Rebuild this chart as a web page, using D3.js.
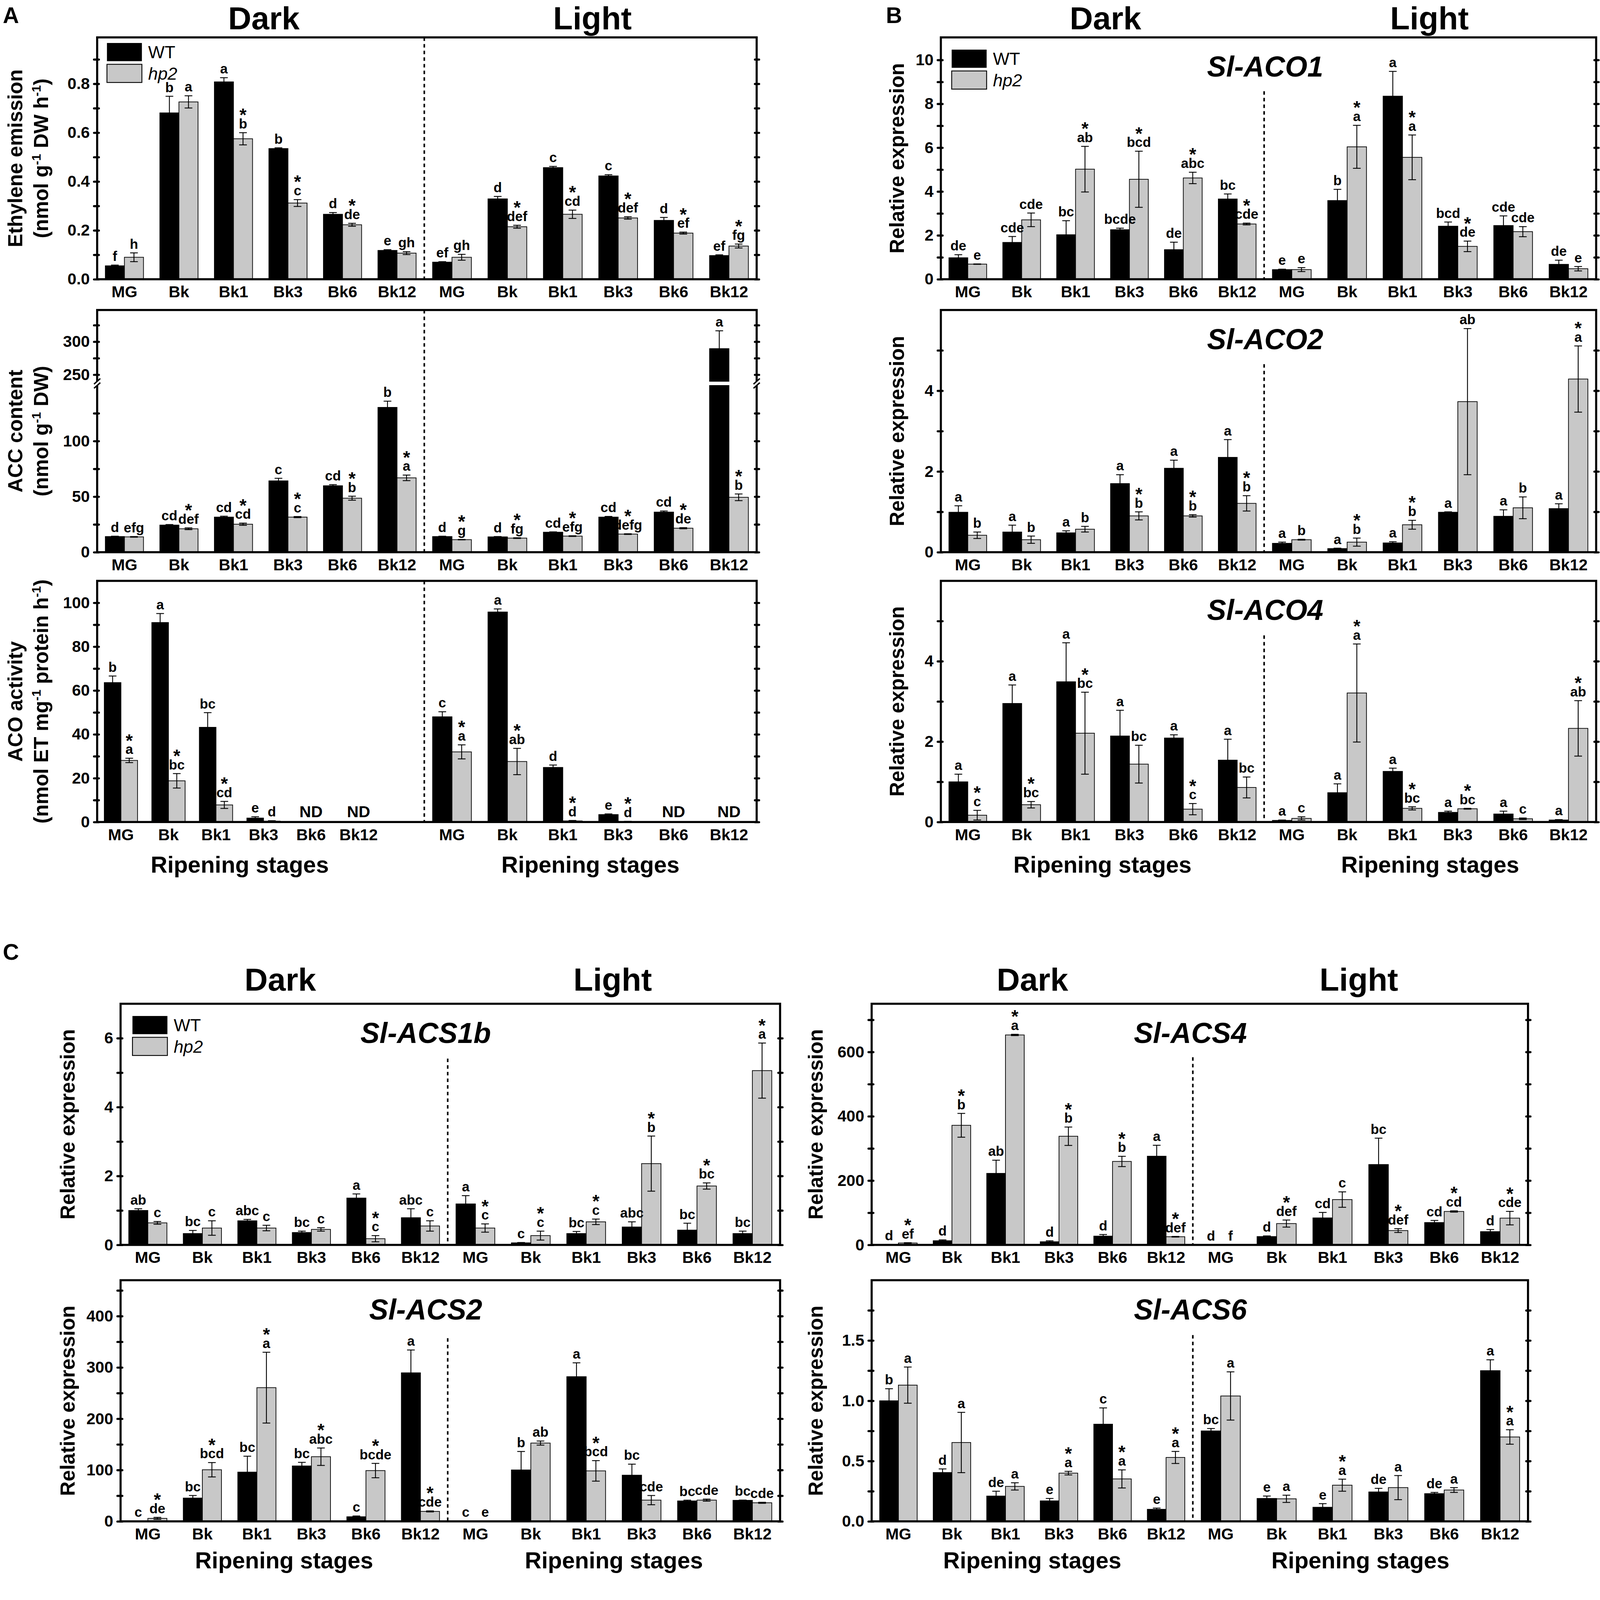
<!DOCTYPE html>
<html>
<head>
<meta charset="utf-8">
<script src="https://cdn.jsdelivr.net/npm/d3@7"></script>
<style>
html, body { margin: 0; padding: 0; background: #fff; overflow: hidden; }
svg { display: block; width: 100vw; height: 100vh; }
text { font-family: "Liberation Sans", Arial, sans-serif; font-weight: bold; fill: #000; }
</style>
</head>
<body>
<svg id="fig" viewBox="0 0 4578 4509" preserveAspectRatio="xMinYMin meet"></svg>
<script>
// ripening stages, dark group then light group (12 entries per series)
var stages = ["MG", "Bk", "Bk1", "Bk3", "Bk6", "Bk12"];

// A - ethylene emission
var ethWT     = [0.055, 0.681, 0.808, 0.535, 0.266, 0.118, 0.070, 0.329, 0.457, 0.423, 0.241, 0.097];
var ethWTErr  = [0.003, 0.068, 0.017, 0.003, 0.007, 0.003, 0.002, 0.010, 0.005, 0.005, 0.012, 0.003];
var ethHp     = [0.090, 0.726, 0.575, 0.312, 0.223, 0.107, 0.090, 0.215, 0.266, 0.251, 0.189, 0.136];
var ethHpErr  = [0.018, 0.025, 0.025, 0.014, 0.006, 0.006, 0.012, 0.006, 0.017, 0.005, 0.004, 0.008];
var ethWTLet  = ["f", "b", "a", "b", "d", "e", "ef", "d", "c", "c", "d", "ef"];
var ethHpLet  = ["h", "a", "*b", "*c", "*de", "gh", "gh", "*def", "*cd", "*def", "*ef", "*fg"];

// A - ACC content
var accWT     = [14.1, 24.4, 31.6, 64.2, 59.8, 130.3, 14.1, 13.8, 18.0, 31.6, 36.1, 289.5];
var accWTErr  = [0.3, 0.5, 0.8, 2.3, 1.0, 5.6, 0.3, 0.3, 0.3, 0.6, 1.0, 27];
var accHp     = [13.8, 21.1, 25.2, 31.6, 48.6, 66.9, 11.3, 12.7, 14.5, 16.3, 21.6, 49.4];
var accHpErr  = [0.3, 0.8, 1.0, 0.5, 1.8, 2.5, 0.2, 0.3, 0.3, 0.3, 0.5, 3.0];
var accWTLet  = ["d", "cd", "cd", "c", "cd", "b", "d", "d", "cd", "cd", "cd", "a"];
var accHpLet  = ["efg", "*def", "*cd", "*c", "*b", "*a", "*g", "*fg", "*efg", "*defg", "*de", "*b"];

// A - ACO activity (null = not detected)
var acoWT     = [63.6, 91.0, 43.2, 1.8, null, null, 48.0, 95.8, 24.9, 3.4, null, null];
var acoWTErr  = [3.0, 4.1, 6.7, 0.6, 0, 0, 2.3, 1.4, 1.1, 0.3, 0, 0];
var acoHp     = [28.1, 18.8, 7.8, 0.4, null, null, 32.0, 27.6, 0.5, 0.2, null, null];
var acoHpErr  = [1.0, 3.3, 1.6, 0.2, 0, 0, 3.2, 6.0, 0.2, 0.1, 0, 0];
var acoWTLet  = ["b", "a", "bc", "e", "ND", "ND", "c", "a", "d", "e", "ND", "ND"];
var acoHpLet  = ["*a", "*bc", "*cd", "d", "", "", "*a", "*ab", "*d", "*d", "", ""];

// B - Sl-ACO1
var aco1WT    = [0.98, 1.68, 2.03, 2.26, 1.35, 3.66, 0.44, 3.59, 8.35, 2.42, 2.45, 0.68];
var aco1WTErr = [0.14, 0.27, 0.64, 0.07, 0.34, 0.23, 0.02, 0.51, 1.13, 0.19, 0.44, 0.19];
var aco1Hp    = [0.69, 2.71, 5.02, 4.56, 4.62, 2.52, 0.44, 6.04, 5.56, 1.50, 2.17, 0.48];
var aco1HpErr = [0.01, 0.31, 1.04, 1.28, 0.26, 0.04, 0.09, 0.98, 1.02, 0.24, 0.23, 0.10];
var aco1WTLet = ["de", "cde", "bc", "bcde", "de", "bc", "e", "b", "a", "bcd", "cde", "de"];
var aco1HpLet = ["e", "cde", "*ab", "*bcd", "*abc", "*cde", "e", "*a", "*a", "*de", "cde", "e"];

// B - Sl-ACO2
var aco2WT    = [0.99, 0.50, 0.48, 1.70, 2.08, 2.35, 0.22, 0.09, 0.23, 0.99, 0.89, 1.08];
var aco2WTErr = [0.16, 0.17, 0.05, 0.22, 0.20, 0.44, 0.03, 0.01, 0.03, 0.01, 0.16, 0.12];
var aco2Hp    = [0.42, 0.31, 0.57, 0.90, 0.90, 1.21, 0.31, 0.25, 0.68, 3.73, 1.10, 4.29];
var aco2HpErr = [0.08, 0.09, 0.07, 0.10, 0.03, 0.19, 0.01, 0.10, 0.11, 1.81, 0.27, 0.82];
var aco2WTLet = ["a", "a", "a", "a", "a", "a", "a", "a", "a", "a", "a", "a"];
var aco2HpLet = ["b", "b", "b", "*b", "*b", "*b", "b", "*b", "*b", "ab", "b", "*a"];

// B - Sl-ACO4
var aco4WT    = [1.00, 2.95, 3.49, 2.14, 2.09, 1.54, 0.04, 0.73, 1.26, 0.24, 0.20, 0.05];
var aco4WTErr = [0.19, 0.46, 0.97, 0.64, 0.08, 0.52, 0.01, 0.22, 0.08, 0.03, 0.07, 0.01];
var aco4Hp    = [0.17, 0.43, 2.21, 1.44, 0.32, 0.86, 0.09, 3.21, 0.34, 0.33, 0.08, 2.33];
var aco4HpErr = [0.12, 0.08, 1.02, 0.47, 0.14, 0.26, 0.04, 1.22, 0.04, 0.01, 0.02, 0.69];
var aco4WTLet = ["a", "a", "a", "a", "a", "a", "a", "a", "a", "a", "a", "a"];
var aco4HpLet = ["*c", "*bc", "*bc", "bc", "*c", "bc", "c", "*a", "*bc", "*bc", "c", "*ab"];

// C - Sl-ACS1b
var acs1WT    = [1.00, 0.33, 0.70, 0.36, 1.36, 0.79, 1.19, 0.06, 0.33, 0.52, 0.43, 0.33];
var acs1WTErr = [0.05, 0.09, 0.04, 0.04, 0.12, 0.26, 0.24, 0.01, 0.06, 0.15, 0.20, 0.07];
var acs1Hp    = [0.64, 0.49, 0.49, 0.45, 0.18, 0.55, 0.49, 0.27, 0.67, 2.36, 1.71, 5.06];
var acs1HpErr = [0.04, 0.21, 0.08, 0.05, 0.09, 0.15, 0.12, 0.13, 0.08, 0.80, 0.09, 0.80];
var acs1WTLet = ["ab", "bc", "abc", "bc", "a", "abc", "a", "c", "bc", "abc", "bc", "bc"];
var acs1HpLet = ["c", "c", "c", "c", "*c", "c", "*c", "*c", "*c", "*b", "*bc", "*a"];

// C - Sl-ACS4
var acs4WT    = [1, 13, 222.5, 9.8, 27.3, 275.9, 0.5, 26, 84, 250, 69.6, 41.3];
var acs4WTErr = [0.3, 2.6, 41, 3, 5, 34, 0.2, 2, 17, 82, 6.5, 6.5];
var acs4Hp    = [5.9, 372, 653, 338, 259.6, 25.4, 0.5, 66.4, 141, 44.6, 104, 83.3];
var acs4HpErr = [1, 37, 2, 28.6, 16, 1, 0.2, 11, 24, 6, 2, 21];
var acs4WTLet = ["d", "d", "ab", "d", "d", "a", "d", "d", "cd", "bc", "cd", "d"];
var acs4HpLet = ["*ef", "*b", "*a", "*b", "*b", "*def", "f", "*def", "c", "*def", "*cd", "*cde"];

// C - Sl-ACS2
var acs2WT    = [0.5, 45.4, 96, 108, 9, 289.5, 0.5, 100.2, 282, 90, 39.8, 41];
var acs2WTErr = [0.2, 5, 31, 7, 1.5, 44.5, 0.2, 36, 27, 21.5, 1.5, 0.5];
var acs2Hp    = [5.8, 100.6, 260.6, 126, 99, 19.4, 0.5, 152.6, 98.4, 41.4, 41.4, 36.2];
var acs2HpErr = [2, 14, 69, 17, 14, 1, 0.2, 4, 20, 9, 2, 1];
var acs2WTLet = ["c", "bc", "bc", "bc", "c", "a", "c", "b", "a", "bc", "bc", "bc"];
var acs2HpLet = ["*de", "*bcd", "*a", "*abc", "*bcde", "*cde", "e", "ab", "*bcd", "cde", "cde", "cde"];

// C - Sl-ACS6
var acs6WT    = [1.0, 0.405, 0.21, 0.17, 0.806, 0.10, 0.75, 0.19, 0.117, 0.244, 0.23, 1.25];
var acs6WTErr = [0.1, 0.03, 0.04, 0.02, 0.135, 0.01, 0.02, 0.02, 0.03, 0.03, 0.01, 0.09];
var acs6Hp    = [1.13, 0.654, 0.29, 0.40, 0.352, 0.53, 1.04, 0.187, 0.30, 0.28, 0.26, 0.70];
var acs6HpErr = [0.15, 0.25, 0.03, 0.015, 0.075, 0.05, 0.2, 0.03, 0.05, 0.1, 0.02, 0.06];
var acs6WTLet = ["b", "d", "de", "e", "c", "e", "bc", "e", "e", "de", "de", "a"];
var acs6HpLet = ["a", "a", "a", "*a", "*a", "*a", "a", "a", "*a", "a", "a", "*a"];

var svg = d3.select("#fig");
var grey = "#c8c8c8";
var f1 = d3.format(".1f"), f0 = d3.format("d");

function addText(g, x, y, s, size, opts) {
  opts = opts || {};
  return g.append("text").attr("x", x).attr("y", y)
    .attr("text-anchor", opts.anchor || "middle")
    .attr("font-size", size)
    .style("font-style", opts.italic ? "italic" : null)
    .style("font-weight", opts.normal ? "normal" : null)
    .text(s);
}

// rotated label, "^" marks superscripts
function ylabel(lines, xs, yc) {
  lines.forEach(function(line, k) {
    var t = svg.append("text")
      .attr("transform", "translate(" + xs[k] + "," + yc + ") rotate(-90)")
      .attr("text-anchor", "middle").attr("font-size", 58);
    line.split("^").forEach(function(part, j) {
      if (!part) return;
      var sp = t.append("tspan").text(part);
      if (j % 2 == 1) sp.attr("font-size", 36).attr("dy", -22);
      else if (j > 0) sp.attr("dy", 22);
    });
  });
}

function drawPanel(o) {
  var g = svg.append("g");
  var xD = d3.scaleBand().domain(stages).range([o.left, o.darkEnd || o.divider]).paddingInner(0.3).paddingOuter(0.15);
  var xL = d3.scaleBand().domain(stages).range([o.divider, o.right]).paddingInner(0.3).paddingOuter(0.15);
  var segs = o.segs;
  var scales = segs.map(function(s) { return d3.scaleLinear().domain(s.domain).range(s.range); });
  function y(v) {
    for (var k = 0; k < segs.length; k++)
      if (v <= segs[k].domain[1] || k == segs.length - 1) return scales[k](v);
  }

  var bars = [];
  for (var i = 0; i < 12; i++) {
    var xs = i < 6 ? xD : xL, st = stages[i % 6], bw = xs.bandwidth() / 2;
    bars.push({x: xs(st), w: bw, v: o.wt[i], e: o.wtErr[i], lab: o.wtLet[i], fill: "#000", c: xs(st) + bw});
    bars.push({x: xs(st) + bw, w: bw, v: o.hp[i], e: o.hpErr[i], lab: o.hpLet[i], fill: grey, c: xs(st) + bw});
  }
  var shown = bars.filter(function(b) { return b.v != null; });

  segs.forEach(function(s, k) {
    var sc = scales[k];
    g.selectAll(null)
      .data(shown.filter(function(b) { return b.v > s.domain[0]; }))
      .enter().append("rect")
      .attr("x", function(b) { return b.x; })
      .attr("width", function(b) { return b.w; })
      .attr("y", function(b) { return sc(Math.min(b.v, s.domain[1])); })
      .attr("height", function(b) { return sc(s.domain[0]) - sc(Math.min(b.v, s.domain[1])); })
      .attr("fill", function(b) { return b.fill; })
      .attr("stroke", "#000").attr("stroke-width", 2);
  });

  // error bars
  var eb = g.selectAll(null).data(shown.filter(function(b) { return b.e > 0; }))
    .enter().append("g").attr("stroke", "#000").attr("stroke-width", 2.5);
  eb.append("line")
    .attr("x1", function(b) { return b.x + b.w / 2; }).attr("x2", function(b) { return b.x + b.w / 2; })
    .attr("y1", function(b) { return y(Math.max(0, b.v - b.e)); })
    .attr("y2", function(b) { return y(b.v + b.e); });
  [1, -1].forEach(function(sg) {
    eb.append("line")
      .attr("x1", function(b) { return b.x + b.w / 2 - 11; }).attr("x2", function(b) { return b.x + b.w / 2 + 11; })
      .attr("y1", function(b) { return y(Math.max(0, b.v + sg * b.e)); })
      .attr("y2", function(b) { return y(Math.max(0, b.v + sg * b.e)); });
  });

  // significance letters, with the star above in the same text element
  bars.forEach(function(b) {
    if (!b.lab) return;
    if (b.lab == "ND") { addText(g, b.c, y(0) - 14, "ND", 46); return; }
    if (b.v == null) return;
    var star = b.lab[0] == "*", txt = star ? b.lab.slice(1) : b.lab;
    var cx = b.x + b.w / 2, base = y(b.v + b.e) - 12;
    if (!star) { addText(g, cx, base, txt, 39); return; }
    var t = g.append("text").attr("text-anchor", "middle").attr("font-size", 39);
    t.append("tspan").attr("x", cx).attr("y", base - 21).attr("font-size", 52).text("*");
    t.append("tspan").attr("x", cx).attr("y", base).text(txt);
  });

  // frame
  g.append("rect").attr("x", o.left).attr("y", o.top)
    .attr("width", o.right - o.left).attr("height", o.bottom - o.top)
    .attr("fill", "none").attr("stroke", "#000").attr("stroke-width", 6);

  // dotted divider between dark and light
  g.append("line").attr("x1", o.divider).attr("x2", o.divider)
    .attr("y1", o.divTop || o.top).attr("y2", o.bottom)
    .attr("stroke", "#000").attr("stroke-width", 4.5).attr("stroke-dasharray", "10,9");

  // axes
  segs.forEach(function(s, k) {
    var ticks = s.major.concat(s.minor);
    var axL = d3.axisLeft(scales[k]).tickValues(ticks).tickSize(9).tickPadding(12)
      .tickFormat(function(d) { return s.major.indexOf(d) >= 0 ? o.fmt(d) : ""; });
    var ga = g.append("g").attr("transform", "translate(" + o.left + ",0)").call(axL);
    ga.select(".domain").remove();
    ga.selectAll(".tick line").attr("x1", 5).attr("stroke-width", 6).attr("stroke-linecap", "round");
    ga.selectAll(".tick text").attr("font-size", 46);
    var axR = d3.axisRight(scales[k]).tickValues(ticks).tickSize(7).tickFormat("");
    var gr = g.append("g").attr("transform", "translate(" + o.right + ",0)").call(axR);
    gr.select(".domain").remove();
    gr.selectAll(".tick line").attr("x1", -5).attr("stroke-width", 6).attr("stroke-linecap", "round");
  });

  // axis break marks
  if (segs.length > 1) {
    var yb0 = segs[0].range[1], yb1 = segs[1].range[0];
    [o.left, o.right].forEach(function(x) {
      g.append("rect").attr("x", x - 6).attr("y", yb1).attr("width", 12).attr("height", yb0 - yb1).attr("fill", "#fff");
      [yb0, yb1].forEach(function(yy) {
        g.append("line").attr("x1", x - 9).attr("y1", yy + 8).attr("x2", x + 9).attr("y2", yy - 8)
          .attr("stroke", "#000").attr("stroke-width", 4);
      });
    });
  }

  // category labels
  [xD, xL].forEach(function(xs) {
    stages.forEach(function(st) {
      addText(g, xs(st) + xs.bandwidth() / 2, o.bottom + 52, st, 46);
    });
  });

  if (o.ripY) {
    addText(g, (o.left + (o.darkEnd || o.divider)) / 2, o.ripY, "Ripening stages", 66);
    addText(g, (o.divider + o.right) / 2, o.ripY, "Ripening stages", 66);
  }
  if (o.title) addText(g, o.titleX, o.top + 112, o.title, 82, {italic: true});
  if (o.legend) {
    var lx = o.legend[0], ly = o.legend[1];
    g.append("rect").attr("x", lx).attr("y", ly).attr("width", 100).attr("height", 52).attr("fill", "#000");
    g.append("rect").attr("x", lx).attr("y", ly + 61).attr("width", 100).attr("height", 52)
      .attr("fill", grey).attr("stroke", "#000").attr("stroke-width", 2.5);
    addText(g, lx + 118, ly + 44, "WT", 50, {anchor: "start", normal: true});
    addText(g, lx + 118, ly + 105, "hp2", 50, {anchor: "start", normal: true, italic: true});
  }
  ylabel(o.ylab, o.ylabX, (o.top + o.bottom) / 2);
}

// ---------- panel A ----------
var aL = 278, aR = 2165, aDiv = 1214;
drawPanel({left: aL, right: aR, divider: aDiv, top: 107, bottom: 799, fmt: f1,
  segs: [{domain: [0, 0.99], range: [799, 107], major: [0, 0.2, 0.4, 0.6, 0.8], minor: [0.1, 0.3, 0.5, 0.7, 0.9]}],
  wt: ethWT, wtErr: ethWTErr, hp: ethHp, hpErr: ethHpErr, wtLet: ethWTLet, hpLet: ethHpLet,
  legend: [306, 123], ylab: ["Ethylene emission", "(nmol g^-1^ DW h^-1^)"], ylabX: [64, 138]});
drawPanel({left: aL, right: aR, divider: aDiv, top: 887, bottom: 1580, fmt: f0,
  segs: [{domain: [0, 150], range: [1580, 1103], major: [0, 50, 100], minor: [25, 75, 125]},
         {domain: [240, 348], range: [1091, 887], major: [250, 300], minor: [275, 325]}],
  wt: accWT, wtErr: accWTErr, hp: accHp, hpErr: accHpErr, wtLet: accWTLet, hpLet: accHpLet,
  ylab: ["ACC content", "(nmol g^-1^ DW)"], ylabX: [64, 138]});
drawPanel({left: aL, right: aR, divider: aDiv, darkEnd: 1094, top: 1662, bottom: 2352, fmt: f0,
  segs: [{domain: [0, 110], range: [2352, 1662], major: [0, 20, 40, 60, 80, 100], minor: [10, 30, 50, 70, 90]}],
  wt: acoWT, wtErr: acoWTErr, hp: acoHp, hpErr: acoHpErr, wtLet: acoWTLet, hpLet: acoHpLet,
  ripY: 2497, ylab: ["ACO activity", "(nmol ET  mg^-1^ protein h^-1^)"], ylabX: [64, 138]});

// ---------- panel B ----------
var bL = 2692, bR = 4567, bDiv = 3617;
drawPanel({left: bL, right: bR, divider: bDiv, divTop: 261, top: 107, bottom: 799, fmt: f0,
  segs: [{domain: [0, 11.03], range: [799, 107], major: [0, 2, 4, 6, 8, 10], minor: [1, 3, 5, 7, 9]}],
  wt: aco1WT, wtErr: aco1WTErr, hp: aco1Hp, hpErr: aco1HpErr, wtLet: aco1WTLet, hpLet: aco1HpLet,
  title: "Sl-ACO1", titleX: 3620, legend: [2723, 142], ylab: ["Relative expression"], ylabX: [2586]});
drawPanel({left: bL, right: bR, divider: bDiv, divTop: 1042, top: 887, bottom: 1580, fmt: f0,
  segs: [{domain: [0, 6], range: [1580, 887], major: [0, 2, 4], minor: [1, 3, 5]}],
  wt: aco2WT, wtErr: aco2WTErr, hp: aco2Hp, hpErr: aco2HpErr, wtLet: aco2WTLet, hpLet: aco2HpLet,
  title: "Sl-ACO2", titleX: 3620, ylab: ["Relative expression"], ylabX: [2586]});
drawPanel({left: bL, right: bR, divider: bDiv, divTop: 1818, top: 1662, bottom: 2352, fmt: f0,
  segs: [{domain: [0, 6], range: [2352, 1662], major: [0, 2, 4], minor: [1, 3, 5]}],
  wt: aco4WT, wtErr: aco4WTErr, hp: aco4Hp, hpErr: aco4HpErr, wtLet: aco4WTLet, hpLet: aco4HpLet,
  title: "Sl-ACO4", titleX: 3620, ripY: 2497, ylab: ["Relative expression"], ylabX: [2586]});

// ---------- panel C ----------
var cL = 345, cR = 2232, cDiv = 1281, dL = 2494, dR = 4372, dDiv = 3413;
drawPanel({left: cL, right: cR, divider: cDiv, divTop: 3029, top: 2872, bottom: 3562, fmt: f0,
  segs: [{domain: [0, 7], range: [3562, 2872], major: [0, 2, 4, 6], minor: [1, 3, 5]}],
  wt: acs1WT, wtErr: acs1WTErr, hp: acs1Hp, hpErr: acs1HpErr, wtLet: acs1WTLet, hpLet: acs1HpLet,
  title: "Sl-ACS1b", titleX: 1218, legend: [379, 2907], ylab: ["Relative expression"], ylabX: [213]});
drawPanel({left: dL, right: dR, divider: dDiv, divTop: 3025, top: 2872, bottom: 3562, fmt: f0,
  segs: [{domain: [0, 750], range: [3562, 2872], major: [0, 200, 400, 600], minor: [100, 300, 500, 700]}],
  wt: acs4WT, wtErr: acs4WTErr, hp: acs4Hp, hpErr: acs4HpErr, wtLet: acs4WTLet, hpLet: acs4HpLet,
  title: "Sl-ACS4", titleX: 3406, ylab: ["Relative expression"], ylabX: [2354]});
drawPanel({left: cL, right: cR, divider: cDiv, divTop: 3829, top: 3663, bottom: 4353, fmt: f0,
  segs: [{domain: [0, 470], range: [4353, 3663], major: [0, 100, 200, 300, 400], minor: [50, 150, 250, 350, 450]}],
  wt: acs2WT, wtErr: acs2WTErr, hp: acs2Hp, hpErr: acs2HpErr, wtLet: acs2WTLet, hpLet: acs2HpLet,
  title: "Sl-ACS2", titleX: 1218, ripY: 4488, ylab: ["Relative expression"], ylabX: [213]});
drawPanel({left: dL, right: dR, divider: dDiv, divTop: 3820, top: 3663, bottom: 4353, fmt: f1,
  segs: [{domain: [0, 2.0], range: [4353, 3663], major: [0, 0.5, 1.0, 1.5], minor: [0.25, 0.75, 1.25, 1.75]}],
  wt: acs6WT, wtErr: acs6WTErr, hp: acs6Hp, hpErr: acs6HpErr, wtLet: acs6WTLet, hpLet: acs6HpLet,
  title: "Sl-ACS6", titleX: 3406, ripY: 4488, ylab: ["Relative expression"], ylabX: [2354]});

// headers and panel letters
var hdr = svg.append("g");
addText(hdr, 8, 66, "A", 64, {anchor: "start"});
addText(hdr, 2535, 66, "B", 64, {anchor: "start"});
addText(hdr, 8, 2746, "C", 64, {anchor: "start"});
[[755, 84, "Dark"], [1695, 84, "Light"], [3163, 84, "Dark"], [4090, 84, "Light"],
 [802, 2834, "Dark"], [1753, 2834, "Light"], [2954, 2834, "Dark"], [3888, 2834, "Light"]]
  .forEach(function(h) { addText(hdr, h[0], h[1], h[2], 92); });
</script>
</body>
</html>
